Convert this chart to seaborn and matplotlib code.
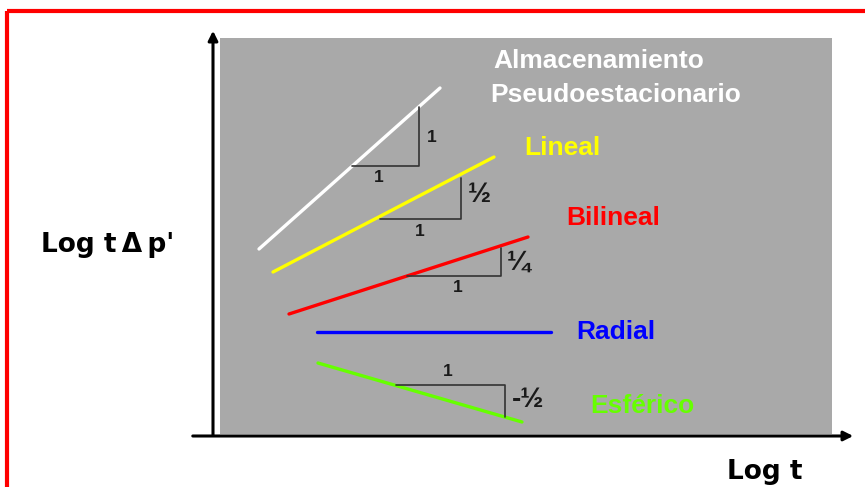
import pandas as pd
import matplotlib.pyplot as plt
import matplotlib.patches as mpatches
import seaborn as sns

# flow regime lines (diagram units = pixels of the 865x487 sketch, y downward)
regimes = ["Almacenamiento", "Lineal", "Bilineal", "Radial", "Esferico"]
start_x = [259, 273, 289, 317, 318]
start_y = [249, 272, 314, 332, 363]
end_x = [440, 494, 528, 551, 522]
end_y = [88, 157, 237, 332, 422]
colors = ["#FFFFFF", "#FFFF00", "#FF0000", "#0000FF", "#66FF00"]

# slope triangles: horizontal leg from left to right, vertical leg from base to tip
tri_left = [352, 380, 407, 396]
tri_right = [419, 461, 501, 505]
tri_base = [166, 219, 276, 385]
tri_tip = [107, 178, 248, 417]
run_labels = ["1", "1", "1", "1"]
run_label_pos = [(379, 178), (420, 231), (458, 288), (448, 372)]
rise_labels = ["1", "½", "¼", "-½"]
rise_label_pos = [(432, 137), (479, 195), (518, 263), (528, 400)]
rise_label_size = [12.5, 20, 20, 20]

# regime names
names = ["Almacenamiento", "Pseudoestacionario", "Lineal", "Bilineal", "Radial", "Esférico"]
name_pos = [(493, 68), (490, 102), (524, 155), (566, 225), (576, 339), (590, 413)]
name_colors = ["#FFFFFF", "#FFFFFF", "#FFFF00", "#FF0000", "#0000FF", "#66FF00"]

sns.set_style("white")
plt.rcParams["font.family"] = ["Liberation Sans", "DejaVu Sans"]

fig = plt.figure(figsize=(8.65, 4.87), dpi=100)
ax = fig.add_axes([0, 0, 1, 1])
ax.set_xlim(0, 865)
ax.set_ylim(487, 0)

# outer red frame (runs off the picture)
ax.add_patch(mpatches.Rectangle((7, 11), 900, 500, fill=False, edgecolor="#FF0000", lw=3))
# gray plot area
ax.add_patch(mpatches.Rectangle((220, 38), 612, 396, facecolor="#A9A9A9", edgecolor="none"))

rows = []
for r, x0, y0, x1, y1 in zip(regimes, start_x, start_y, end_x, end_y):
    rows.append({"regime": r, "log_t": x0, "log_dp": y0})
    rows.append({"regime": r, "log_t": x1, "log_dp": y1})
df = pd.DataFrame(rows)
sns.lineplot(data=df, x="log_t", y="log_dp", hue="regime", palette=dict(zip(regimes, colors)),
             estimator=None, sort=False, legend=False, lw=2.4, ax=ax)
ax.axis("off")

for xl, xr, yb, yt in zip(tri_left, tri_right, tri_base, tri_tip):
    ax.plot([xl, xr, xr], [yb, yb, yt], color="#333333", lw=1.2)

for t, (x, y) in zip(run_labels, run_label_pos):
    ax.text(x, y, t, fontsize=12.5, fontweight="bold", color="#1a1a1a", ha="center", va="center")
for t, (x, y), s in zip(rise_labels, rise_label_pos, rise_label_size):
    ax.text(x, y, t, fontsize=s, fontweight="bold", color="#1a1a1a", ha="center", va="center")

for t, (x, y), c in zip(names, name_pos, name_colors):
    ax.text(x, y, t, fontsize=19, fontweight="bold", color=c, ha="left", va="baseline")

# axes with arrows
ax.annotate("", xy=(213, 28), xytext=(213, 438),
            arrowprops=dict(arrowstyle="-|>", color="black", lw=2.2, mutation_scale=14))
ax.annotate("", xy=(856, 436), xytext=(190, 436),
            arrowprops=dict(arrowstyle="-|>", color="black", lw=2.2, mutation_scale=14))

ax.text(41, 252, "Log t\u2009Δ\u2009p'", fontsize=19, fontweight="bold", family="DejaVu Sans",
        ha="left", va="baseline", color="black")
ax.text(727, 479, "Log t", fontsize=19, fontweight="bold", family="DejaVu Sans",
        ha="left", va="baseline", color="black")

fig.savefig("out.png", dpi=100)
